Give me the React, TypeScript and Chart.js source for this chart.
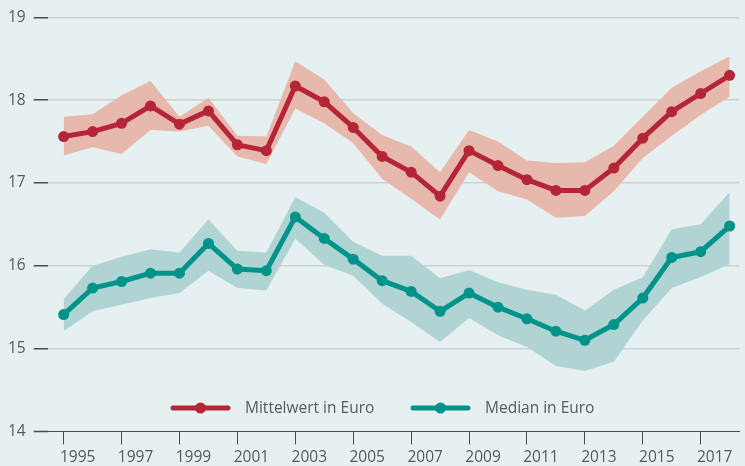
import React, { useEffect, useRef } from "react";
import { Chart, registerables } from "chart.js";

Chart.register(...registerables);

const years = [1995, 1996, 1997, 1998, 1999, 2000, 2001, 2002, 2003, 2004, 2005, 2006, 2007, 2008, 2009, 2010, 2011, 2012, 2013, 2014, 2015, 2016, 2017, 2018];
const tickYears = [1995, 1997, 1999, 2001, 2003, 2005, 2007, 2009, 2011, 2013, 2015, 2017];
const yTicks = [14, 15, 16, 17, 18, 19];

const mittelwert = [17.56, 17.62, 17.72, 17.93, 17.71, 17.87, 17.46, 17.39, 18.17, 17.98, 17.67, 17.32, 17.13, 16.84, 17.39, 17.21, 17.04, 16.91, 16.91, 17.18, 17.54, 17.86, 18.08, 18.3];
const mittelwertOben = [17.8, 17.83, 18.06, 18.23, 17.8, 18.03, 17.57, 17.56, 18.47, 18.25, 17.84, 17.58, 17.44, 17.13, 17.64, 17.5, 17.27, 17.24, 17.25, 17.45, 17.8, 18.15, 18.35, 18.53];
const mittelwertUnten = [17.33, 17.43, 17.35, 17.64, 17.62, 17.69, 17.32, 17.23, 17.9, 17.72, 17.48, 17.05, 16.81, 16.56, 17.13, 16.9, 16.8, 16.58, 16.6, 16.9, 17.3, 17.57, 17.82, 18.04];
const median = [15.41, 15.73, 15.81, 15.91, 15.91, 16.27, 15.96, 15.94, 16.59, 16.33, 16.08, 15.82, 15.69, 15.45, 15.67, 15.5, 15.36, 15.21, 15.1, 15.29, 15.61, 16.1, 16.17, 16.48];
const medianOben = [15.6, 16.0, 16.11, 16.2, 16.16, 16.56, 16.18, 16.16, 16.83, 16.64, 16.29, 16.12, 16.12, 15.85, 15.95, 15.8, 15.71, 15.65, 15.46, 15.71, 15.86, 16.44, 16.5, 16.89];
const medianUnten = [15.21, 15.45, 15.53, 15.61, 15.67, 15.94, 15.73, 15.7, 16.33, 16.01, 15.88, 15.54, 15.32, 15.08, 15.37, 15.16, 15.02, 14.79, 14.73, 14.84, 15.34, 15.73, 15.86, 16.02];

const seriesNames = ["Mittelwert in Euro", "Median in Euro"];

const BG = "#e7f0f1";
const RED = "#b52538";
const RED_BAND = "#e7b8ac";
const TEAL = "#00938a";
const TEAL_BAND = "#b0d4d3";
const TEXT = "#555a5c";
const AXIS = "#4a4a4a";
const GRID = "#cbd1d3";
const FONT = "'Open Sans', 'Noto Sans', sans-serif";

const pts = (vals: number[]) => years.map((x, i) => ({ x, y: vals[i] }));

const bgPlugin = {
  id: "bg",
  beforeDraw(chart: any) {
    const c = chart.ctx;
    c.save();
    c.fillStyle = BG;
    c.fillRect(0, 0, chart.width, chart.height);
    c.restore();
  },
};

const legendPlugin = {
  id: "customLegend",
  afterDraw(chart: any) {
    const c = chart.ctx;
    const items = chart.data.datasets.filter((d: any) => d.isLine);
    const y = 408;
    const starts = [173, 413];
    c.save();
    items.forEach((d: any, i: number) => {
      const x0 = starts[i];
      c.strokeStyle = d.borderColor;
      c.lineWidth = 5;
      c.lineCap = "round";
      c.beginPath();
      c.moveTo(x0, y);
      c.lineTo(x0 + 55, y);
      c.stroke();
      c.fillStyle = d.borderColor;
      c.beginPath();
      c.arc(x0 + 27.5, y, 5.5, 0, Math.PI * 2);
      c.fill();
      c.fillStyle = TEXT;
      c.font = `15.5px ${FONT}`;
      c.textBaseline = "middle";
      c.textAlign = "left";
      c.fillText(d.label, x0 + 72, y + 1);
    });
    c.restore();
  },
};

export default function App() {
  const ref = useRef<HTMLCanvasElement | null>(null);

  useEffect(() => {
    document.body.style.margin = "0";
    document.body.style.background = BG;
    if (!ref.current) return;
    const band = (data: number[], color: string, fill: any) => ({
      label: "",
      data: pts(data),
      borderWidth: 0,
      borderColor: "transparent",
      backgroundColor: color,
      pointRadius: 0,
      fill,
      tension: 0,
    });
    const line = (label: string, data: number[], color: string) => ({
      label,
      isLine: true,
      data: pts(data),
      borderColor: color,
      backgroundColor: color,
      borderWidth: 5,
      pointRadius: 5.5,
      pointBackgroundColor: color,
      pointBorderWidth: 0,
      fill: false,
      tension: 0,
      borderJoinStyle: "round",
    });
    const chart = new Chart(ref.current, {
      type: "line",
      data: {
        datasets: [
          line(seriesNames[0], mittelwert, RED),
          line(seriesNames[1], median, TEAL),
          band(mittelwertOben, RED_BAND, "+1"),
          band(mittelwertUnten, RED_BAND, false),
          band(medianOben, TEAL_BAND, "+1"),
          band(medianUnten, TEAL_BAND, false),
        ] as any,
      },
      options: {
        animation: false,
        responsive: false,
        layout: { padding: { top: 8, right: 0, left: 0, bottom: -5 } },
        plugins: {
          legend: { display: false },
          tooltip: { enabled: false },
          filler: { drawTime: "beforeDatasetsDraw" },
        } as any,
        scales: {
          x: {
            type: "linear",
            min: 1994.45,
            max: 2018.34,
            afterBuildTicks: (scale: any) => {
              scale.ticks = tickYears.map((v) => ({ value: v }));
            },
            grid: {
              drawOnChartArea: false,
              drawTicks: true,
              tickLength: 13,
              tickColor: AXIS,
              tickWidth: 1,
            },
            border: { display: true, color: AXIS, width: 1 },
            ticks: {
              autoSkip: false,
              maxRotation: 0,
              labelOffset: 14,
              padding: 4,
              color: TEXT,
              font: { family: FONT, size: 15.5 },
              callback: (v: any) => String(v),
            },
          },
          y: {
            min: 14,
            max: 19,
            afterBuildTicks: (scale: any) => {
              scale.ticks = yTicks.map((v) => ({ value: v }));
            },
            grid: {
              color: (ctx: any) => (ctx.tick && ctx.tick.value === 14 ? AXIS : GRID),
              lineWidth: (ctx: any) => (ctx.tick && ctx.tick.value === 14 ? 1 : 1.5),
              tickColor: AXIS,
              tickLength: 14,
              tickWidth: 1.5,
            },
            border: { display: false },
            ticks: {
              padding: 8,
              color: TEXT,
              font: { family: FONT, size: 15.5 },
              callback: (v: any) => String(v),
            },
          },
        },
      } as any,
      plugins: [bgPlugin, legendPlugin],
    });
    return () => chart.destroy();
  }, []);

  return (
    <div style={{ width: 745, height: 466, background: BG }}>
      <canvas ref={ref} width={745} height={466} />
    </div>
  );
}
